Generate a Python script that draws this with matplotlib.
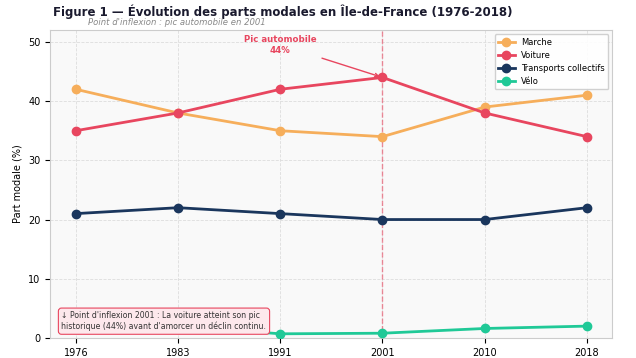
import matplotlib.pyplot as plt
import numpy as np

# data
years = ['1976', '1983', '1991', '2001', '2010', '2018']
marche = [42, 38, 35, 34, 39, 41]
voiture = [35, 38, 42, 44, 38, 34]
transports = [21, 22, 21, 20, 20, 22]
velo = [2.0, 2.0, 0.7, 0.8, 1.6, 2.0]

series = [
    ('Marche', marche, '#F6AE5B'),
    ('Voiture', voiture, '#E8465F'),
    ('Transports collectifs', transports, '#1A365D'),
    ('Vélo', velo, '#20C997'),
]

fig = plt.figure(figsize=(6.36, 3.58), dpi=100)
ax = fig.add_axes([0.079, 0.056, 0.884, 0.86])
ax.set_facecolor('#f9f9f9')

x = np.arange(len(years))
for name, vals, color in series:
    ax.plot(x, vals, color=color, lw=2, marker='o', markersize=6, label=name, zorder=3)

# peak marker line
peak = years.index('2001')
ax.axvline(peak, color='#E8465F', ls='--', lw=1, alpha=0.6, zorder=2)
ax.annotate('Pic automobile\n44%', xy=(peak, voiture[peak]), xytext=(2.0, 49.5),
            ha='center', va='center', fontsize=6.2, fontweight='bold', color='#E8465F',
            arrowprops=dict(arrowstyle='->', color='#E8465F', lw=1))

ax.text(0.02, 0.022, "↓ Point d'inflexion 2001 : La voiture atteint son pic\n"
        "historique (44%) avant d'amorcer un déclin continu.",
        transform=ax.transAxes, fontsize=5.6, color='#333333', va='bottom', zorder=5,
        bbox=dict(boxstyle='round,pad=0.4', facecolor='#fde8ec', edgecolor='#E8465F', lw=0.8))

ax.set_xticks(x)
ax.set_xticklabels(years, fontsize=7)
ax.set_xlim(-0.25, 5.25)
ax.set_ylim(0, 52)
ax.set_yticks([0, 10, 20, 30, 40, 50])
ax.tick_params(axis='y', labelsize=7)
ax.set_ylabel('Part modale (%)', fontsize=7)
ax.grid(True, ls='--', color='#dddddd', lw=0.6)
for s in ax.spines.values():
    s.set_color('#cccccc')

ax.legend(loc='upper right', fontsize=6, framealpha=0.9, edgecolor='#cccccc')

fig.text(0.083, 0.966, 'Figure 1 — Évolution des parts modales en Île-de-France (1976-2018)',
         fontsize=8.5, fontweight='bold', color='#1a1a2e', va='center')
fig.text(0.138, 0.936, "Point d'inflexion : pic automobile en 2001",
         fontsize=6.1, style='italic', color='#888888', va='center')

fig.savefig('out.png', dpi=100)
